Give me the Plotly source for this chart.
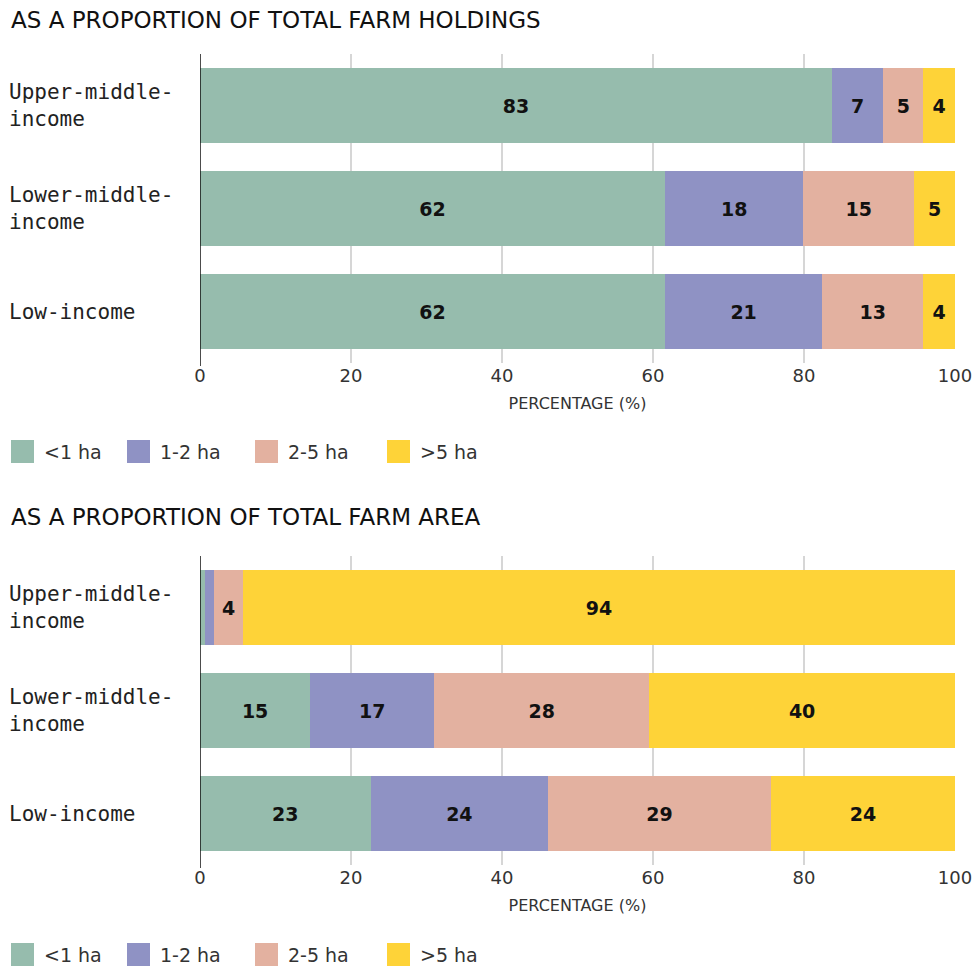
import plotly.graph_objects as go

# ---------------- data ----------------
categories = ["Upper-middle-income", "Lower-middle-income", "Low-income"]
category_labels = ["Upper-middle-<br>income", "Lower-middle-<br>income", "Low-income"]
series_names = ["<1 ha", "1-2 ha", "2-5 ha", ">5 ha"]

# As a proportion of total farm holdings (%)
holdings_lt1 = [83.7, 61.6, 61.6]
holdings_1_2 = [6.8, 18.3, 20.8]
holdings_2_5 = [5.3, 14.7, 13.4]
holdings_gt5 = [4.2, 5.4, 4.2]
holdings_lt1_lbl = ["83", "62", "62"]
holdings_1_2_lbl = ["7", "18", "21"]
holdings_2_5_lbl = ["5", "15", "13"]
holdings_gt5_lbl = ["4", "5", "4"]

# As a proportion of total farm area (%)
area_lt1 = [0.7, 14.6, 22.6]
area_1_2 = [1.2, 16.4, 23.5]
area_2_5 = [3.8, 28.5, 29.5]
area_gt5 = [94.3, 40.5, 24.4]
area_lt1_lbl = ["", "15", "23"]
area_1_2_lbl = ["", "17", "24"]
area_2_5_lbl = ["4", "28", "29"]
area_gt5_lbl = ["94", "40", "24"]

x_ticks = [0, 20, 40, 60, 80, 100]
titles = ["AS A PROPORTION OF TOTAL FARM HOLDINGS", "AS A PROPORTION OF TOTAL FARM AREA"]
axis_title = "PERCENTAGE (%)"

# ---------------- style ----------------
colors = ["#96BCAD", "#8F92C4", "#E3B1A0", "#FED338"]
W, H = 976, 966
ML, MR = 200, 21
PW = W - ML - MR
SANS = "DejaVu Sans"

def px_x(p):
    return (p - ML) / PW

def px_y(p):
    return 1 - p / H

fig = go.Figure()

panels = [
    ("x", "y", [holdings_lt1, holdings_1_2, holdings_2_5, holdings_gt5],
     [holdings_lt1_lbl, holdings_1_2_lbl, holdings_2_5_lbl, holdings_gt5_lbl]),
    ("x2", "y2", [area_lt1, area_1_2, area_2_5, area_gt5],
     [area_lt1_lbl, area_1_2_lbl, area_2_5_lbl, area_gt5_lbl]),
]

for xa, ya, vals, lbls in panels:
    for name, v, t, c in zip(series_names, vals, lbls, colors):
        fig.add_trace(go.Bar(
            x=v, y=categories, orientation="h", name=name,
            marker=dict(color=c, line=dict(width=0)),
            text=t, textposition="inside", insidetextanchor="middle",
            textangle=0,
            textfont=dict(family=SANS, size=19, color="#111111", weight="bold"),
            xaxis=xa, yaxis=ya, showlegend=False, hoverinfo="skip",
        ))

axis_common = dict(
    range=[0, 100], tickvals=x_ticks, showgrid=True, gridcolor="#d6d6d6", gridwidth=2,
    zeroline=False, showline=False, ticks="",
    tickfont=dict(family=SANS, size=18, color="#333333"),
    title=dict(text=axis_title, font=dict(family=SANS, size=16, color="#333333"), standoff=12),
    fixedrange=True,
)
y_common = dict(
    categoryorder="array", categoryarray=categories, autorange="reversed",
    showticklabels=False, showgrid=False, zeroline=False, ticks="", showline=False,
    fixedrange=True,
)

top_dom = [px_y(363), px_y(54)]
bot_dom = [px_y(865), px_y(556)]

fig.update_layout(
    width=W, height=H,
    margin=dict(l=ML, r=MR, t=0, b=0),
    paper_bgcolor="white", plot_bgcolor="white",
    barmode="stack", bargap=0.27,
    uniformtext=dict(minsize=19, mode="show"),
    xaxis=dict(**axis_common, anchor="y"),
    yaxis=dict(**y_common, domain=top_dom, anchor="x"),
    xaxis2=dict(**axis_common, anchor="y2"),
    yaxis2=dict(**y_common, domain=bot_dom, anchor="x2"),
    showlegend=False,
)

shapes = []
annotations = []

# zero lines (black) for both panels
for xa, ya in [("x", "y"), ("x2", "y2")]:
    shapes.append(dict(type="line", xref=xa, yref=ya + " domain", x0=0, x1=0, y0=-0.01, y1=1,
                       line=dict(color="#111111", width=1.5)))
    for cat, lab in zip(categories, category_labels):
        annotations.append(dict(
            text=lab, xref="paper", yref=ya, x=px_x(7), y=cat, xanchor="left", yanchor="middle",
            align="left", showarrow=False,
            font=dict(family="DejaVu Sans Mono", size=21, color="#222222"),
        ))

# panel titles
for t, ypx in zip(titles, [20, 517]):
    annotations.append(dict(
        text=t, xref="paper", yref="paper", x=px_x(9), y=px_y(ypx), xanchor="left", yanchor="middle",
        showarrow=False, font=dict(family=SANS, size=23, color="#111111"),
    ))

# custom legends (large square swatches)
legend_sw_x = [11, 127, 255, 387]
for top_px in [440, 943]:
    for name, c, sx in zip(series_names, colors, legend_sw_x):
        shapes.append(dict(type="rect", xref="paper", yref="paper",
                           x0=px_x(sx), x1=px_x(sx + 23), y0=px_y(top_px + 23), y1=px_y(top_px),
                           fillcolor=c, line=dict(width=0)))
        annotations.append(dict(
            text=name.replace("<", "&lt;").replace(">", "&gt;"), xref="paper", yref="paper",
            x=px_x(sx + 31), y=px_y(top_px + 11.5), xanchor="left", yanchor="middle",
            showarrow=False, font=dict(family=SANS, size=19, color="#333333"),
        ))

fig.update_layout(shapes=shapes, annotations=annotations)

fig.write_html("out.html", config={"displayModeBar": False},
               post_script="document.body.style.margin='0';document.body.style.overflow='hidden';")
